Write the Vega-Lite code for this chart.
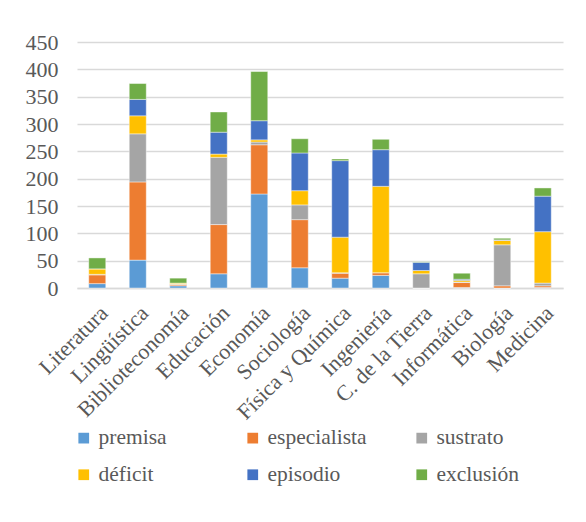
{
  "$schema": "https://vega.github.io/schema/vega-lite/v6.json",
  "autosize": {"type": "none"},
  "width": 486,
  "height": 246,
  "padding": {"left": 77, "top": 42, "right": 23, "bottom": 234},
  "background": "white",
  "data": {"values": [
    {"cat": "Literatura", "serie": "premisa", "k": 1, "v": 8},
    {"cat": "Literatura", "serie": "especialista", "k": 2, "v": 16},
    {"cat": "Literatura", "serie": "sustrato", "k": 3, "v": 1},
    {"cat": "Literatura", "serie": "déficit", "k": 4, "v": 10},
    {"cat": "Literatura", "serie": "episodio", "k": 5, "v": 0},
    {"cat": "Literatura", "serie": "exclusión", "k": 6, "v": 20},
    {"cat": "Lingüística", "serie": "premisa", "k": 1, "v": 51},
    {"cat": "Lingüística", "serie": "especialista", "k": 2, "v": 143},
    {"cat": "Lingüística", "serie": "sustrato", "k": 3, "v": 88},
    {"cat": "Lingüística", "serie": "déficit", "k": 4, "v": 33},
    {"cat": "Lingüística", "serie": "episodio", "k": 5, "v": 30},
    {"cat": "Lingüística", "serie": "exclusión", "k": 6, "v": 29},
    {"cat": "Biblioteconomía", "serie": "premisa", "k": 1, "v": 4},
    {"cat": "Biblioteconomía", "serie": "especialista", "k": 2, "v": 2},
    {"cat": "Biblioteconomía", "serie": "sustrato", "k": 3, "v": 1},
    {"cat": "Biblioteconomía", "serie": "déficit", "k": 4, "v": 2},
    {"cat": "Biblioteconomía", "serie": "episodio", "k": 5, "v": 0},
    {"cat": "Biblioteconomía", "serie": "exclusión", "k": 6, "v": 9},
    {"cat": "Educación", "serie": "premisa", "k": 1, "v": 26},
    {"cat": "Educación", "serie": "especialista", "k": 2, "v": 90},
    {"cat": "Educación", "serie": "sustrato", "k": 3, "v": 123},
    {"cat": "Educación", "serie": "déficit", "k": 4, "v": 6},
    {"cat": "Educación", "serie": "episodio", "k": 5, "v": 40},
    {"cat": "Educación", "serie": "exclusión", "k": 6, "v": 37},
    {"cat": "Economía", "serie": "premisa", "k": 1, "v": 172},
    {"cat": "Economía", "serie": "especialista", "k": 2, "v": 90},
    {"cat": "Economía", "serie": "sustrato", "k": 3, "v": 5},
    {"cat": "Economía", "serie": "déficit", "k": 4, "v": 4},
    {"cat": "Economía", "serie": "episodio", "k": 5, "v": 35},
    {"cat": "Economía", "serie": "exclusión", "k": 6, "v": 90},
    {"cat": "Sociología", "serie": "premisa", "k": 1, "v": 37},
    {"cat": "Sociología", "serie": "especialista", "k": 2, "v": 88},
    {"cat": "Sociología", "serie": "sustrato", "k": 3, "v": 27},
    {"cat": "Sociología", "serie": "déficit", "k": 4, "v": 26},
    {"cat": "Sociología", "serie": "episodio", "k": 5, "v": 69},
    {"cat": "Sociología", "serie": "exclusión", "k": 6, "v": 26},
    {"cat": "Física y Química", "serie": "premisa", "k": 1, "v": 18},
    {"cat": "Física y Química", "serie": "especialista", "k": 2, "v": 9},
    {"cat": "Física y Química", "serie": "sustrato", "k": 3, "v": 1},
    {"cat": "Física y Química", "serie": "déficit", "k": 4, "v": 65},
    {"cat": "Física y Química", "serie": "episodio", "k": 5, "v": 140},
    {"cat": "Física y Química", "serie": "exclusión", "k": 6, "v": 3},
    {"cat": "Ingeniería", "serie": "premisa", "k": 1, "v": 23},
    {"cat": "Ingeniería", "serie": "especialista", "k": 2, "v": 5},
    {"cat": "Ingeniería", "serie": "sustrato", "k": 3, "v": 0},
    {"cat": "Ingeniería", "serie": "déficit", "k": 4, "v": 158},
    {"cat": "Ingeniería", "serie": "episodio", "k": 5, "v": 67},
    {"cat": "Ingeniería", "serie": "exclusión", "k": 6, "v": 19},
    {"cat": "C. de la Tierra", "serie": "premisa", "k": 1, "v": 0},
    {"cat": "C. de la Tierra", "serie": "especialista", "k": 2, "v": 0},
    {"cat": "C. de la Tierra", "serie": "sustrato", "k": 3, "v": 26},
    {"cat": "C. de la Tierra", "serie": "déficit", "k": 4, "v": 6},
    {"cat": "C. de la Tierra", "serie": "episodio", "k": 5, "v": 15},
    {"cat": "C. de la Tierra", "serie": "exclusión", "k": 6, "v": 1},
    {"cat": "Informática", "serie": "premisa", "k": 1, "v": 1},
    {"cat": "Informática", "serie": "especialista", "k": 2, "v": 9},
    {"cat": "Informática", "serie": "sustrato", "k": 3, "v": 1},
    {"cat": "Informática", "serie": "déficit", "k": 4, "v": 3},
    {"cat": "Informática", "serie": "episodio", "k": 5, "v": 2},
    {"cat": "Informática", "serie": "exclusión", "k": 6, "v": 11},
    {"cat": "Biología", "serie": "premisa", "k": 1, "v": 0},
    {"cat": "Biología", "serie": "especialista", "k": 2, "v": 4},
    {"cat": "Biología", "serie": "sustrato", "k": 3, "v": 75},
    {"cat": "Biología", "serie": "déficit", "k": 4, "v": 8},
    {"cat": "Biología", "serie": "episodio", "k": 5, "v": 1},
    {"cat": "Biología", "serie": "exclusión", "k": 6, "v": 3},
    {"cat": "Medicina", "serie": "premisa", "k": 1, "v": 1},
    {"cat": "Medicina", "serie": "especialista", "k": 2, "v": 3},
    {"cat": "Medicina", "serie": "sustrato", "k": 3, "v": 5},
    {"cat": "Medicina", "serie": "déficit", "k": 4, "v": 94},
    {"cat": "Medicina", "serie": "episodio", "k": 5, "v": 65},
    {"cat": "Medicina", "serie": "exclusión", "k": 6, "v": 15}
  ]},
  "mark": {"type": "bar", "stroke": "white", "strokeWidth": 0.6, "strokeOpacity": 0.7},
  "encoding": {
    "x": {
      "field": "cat", "type": "nominal", "sort": null, "title": null,
      "scale": {"paddingInner": 0.58, "paddingOuter": 0.29},
      "axis": {
        "labelAngle": -45, "labelFontSize": 22, "labelFont": "Liberation Serif, Times New Roman, serif",
        "labelColor": "#595959", "ticks": false, "labelPadding": 14,
        "domainColor": "#d9d9d9", "domainWidth": 1.5, "grid": false, "labelLimit": 300
      }
    },
    "y": {
      "field": "v", "type": "quantitative", "aggregate": "sum", "stack": "zero", "title": null,
      "scale": {"domain": [0, 450], "nice": false},
      "axis": {
        "values": [0, 50, 100, 150, 200, 250, 300, 350, 400, 450],
        "labelFontSize": 22, "labelFont": "Liberation Serif, Times New Roman, serif", "labelColor": "#595959",
        "domain": false, "ticks": false, "labelPadding": 19,
        "gridColor": "#d9d9d9", "gridWidth": 1.5
      }
    },
    "color": {
      "field": "serie", "type": "nominal", "title": null,
      "sort": ["premisa", "especialista", "sustrato", "déficit", "episodio", "exclusión"],
      "scale": {
        "domain": ["premisa", "especialista", "sustrato", "déficit", "episodio", "exclusión"],
        "range": ["#5B9BD5", "#ED7D31", "#A5A5A5", "#FFC000", "#4472C4", "#70AD47"]
      },
      "legend": {
        "orient": "none", "legendX": -4, "legendY": 385, "direction": "horizontal",
        "columns": 3, "gridAlign": "all", "columnPadding": 44, "rowPadding": 14,
        "symbolType": "square", "symbolSize": 115, "symbolStrokeWidth": 0,
        "labelFontSize": 21.5, "labelFont": "Liberation Serif, Times New Roman, serif", "labelColor": "#595959",
        "labelOffset": 4, "labelLimit": 250
      }
    },
    "order": {"field": "k", "type": "quantitative"}
  },
  "config": {"view": {"stroke": null}, "font": "Liberation Serif"}
}
